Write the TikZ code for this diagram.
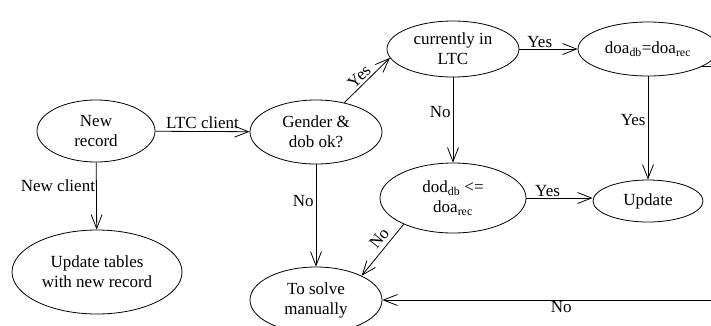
\documentclass[tikz,border=0pt]{standalone}
\usepackage{fontspec}
\setmainfont{Liberation Serif}
\usetikzlibrary{shapes.geometric,arrows.meta}

\begin{document}
\begin{tikzpicture}[x=1pt, y=-1pt,
    state/.style={draw, ellipse, line width=0.8pt, inner sep=0pt, align=center, font=\fontsize{17}{20}\selectfont},
    arr/.style={line width=0.8pt, -{Straight Barb[length=14pt,width=11pt]}},
    lab/.style={font=\fontsize{17}{20}\selectfont, inner sep=2pt}]
    \clip (0,0) rectangle (711,325);
    \node[state, minimum width=118pt, minimum height=62pt] (rec) at (96,131) {New\\record};
    \node[state, minimum width=132pt, minimum height=64pt] (chk) at (316,132) {Gender \&\\dob ok?};
    \node[state, minimum width=132pt, minimum height=56pt] (inltc) at (453,49) {currently in\\LTC};
    \node[state, minimum width=140pt, minimum height=54pt] (doa) at (648,49) {doa\textsubscript{db}=doa\textsubscript{rec}};
    \node[state, minimum width=146pt, minimum height=70pt] (dod) at (453,198) {dod\textsubscript{db} <=\\doa\textsubscript{rec}};
    \node[state, minimum width=110pt, minimum height=42pt] (upd) at (648,201) {Update};
    \node[state, minimum width=170pt, minimum height=84pt] (tbl) at (97,272) {Update tables\\with new record};
    \node[state, minimum width=132pt, minimum height=66pt] (man) at (316,300) {To solve\\manually};
    \coordinate (far) at (740,0);

    \draw[arr] (rec) -- node[lab, above] {LTC client} (chk);
    \draw[arr] (rec) -- node[lab, left, pos=0.34, inner sep=1pt] {New client} (tbl);
    \draw[arr] (chk.46) -- node[lab, sloped, above, pos=0.45] {Yes} (inltc.188);
    \draw[arr] (chk) -- node[lab, left, pos=0.36] {No} (man);
    \draw[arr] (inltc) -- node[lab, above, pos=0.35, inner sep=0.5pt] {Yes} (doa);
    \draw[arr] (inltc) -- node[lab, left, pos=0.41] {No} (dod);
    \draw[arr] (doa) -- node[lab, left, pos=0.42] {Yes} (upd);
    \draw[arr] (dod) -- node[lab, above, pos=0.32, inner sep=0.5pt] {Yes} (upd.west |- dod);
    \draw[arr] (dod.208) -- node[lab, sloped, above, pos=0.4, inner sep=4pt] {No} (man.28);
    \draw[arr] (doa.-18) -- (doa.-18 -| far) |- node[lab, below, pos=0.75, inner sep=1pt] {No} (man.east);
\end{tikzpicture}
\end{document}
